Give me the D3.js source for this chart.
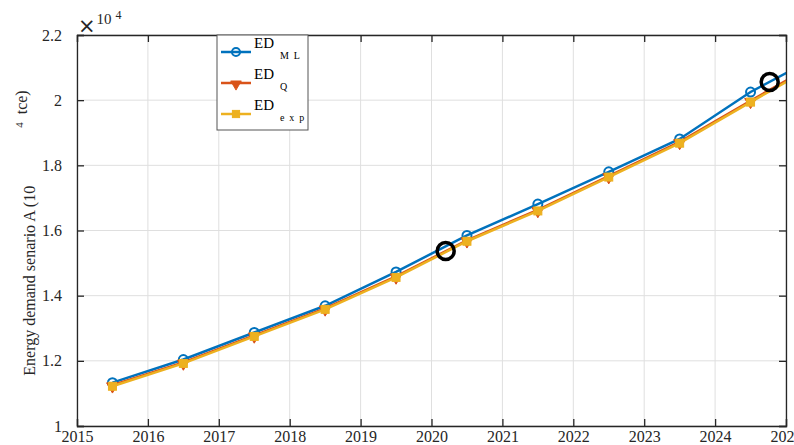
<!DOCTYPE html>
<html>
<head>
<meta charset="utf-8">
<script src="https://cdn.jsdelivr.net/npm/d3@7"></script>
<style>
  html, body { margin: 0; padding: 0; background: #fff; }
  svg { display: block; font-family: "Liberation Serif", "Times New Roman", serif; }
</style>
</head>
<body>
<svg id="chart" width="794" height="445"></svg>
<script>
// Years (mid-year sample points) and the three demand estimates, in units of 10^4 tce
const years = [2015.5, 2016.5, 2017.5, 2018.5, 2019.5, 2020.5, 2021.5, 2022.5, 2023.5, 2024.5, 2025.5];
const edML  = [1.133, 1.204, 1.287, 1.369, 1.473, 1.585, 1.681, 1.780, 1.881, 2.025, 2.141];
const edQ   = [1.125, 1.195, 1.278, 1.361, 1.459, 1.570, 1.663, 1.767, 1.872, 1.998, 2.122];
const edExp = [1.122, 1.192, 1.275, 1.358, 1.456, 1.567, 1.660, 1.764, 1.868, 1.994, 2.117];
// Highlighted points
const markYears = [2020.2, 2024.77];
const markVals  = [1.537, 2.056];

const xTicks = [2015, 2016, 2017, 2018, 2019, 2020, 2021, 2022, 2023, 2024, 2025];
const yTicks = [1, 1.2, 1.4, 1.6, 1.8, 2, 2.2];

const svg = d3.select("#chart");
const L = 77, R = 786, T = 35, B = 426;

const x = d3.scaleLinear().domain([2015, 2025]).range([L, R]);
const y = d3.scaleLinear().domain([1, 2.2]).range([B, T]);

const axisColor = "#262626";
const serif = "Liberation Serif, Times New Roman, serif";

// grid
const grid = svg.append("g");
grid.selectAll("line.gx").data(xTicks).enter().append("line")
  .attr("x1", d => x(d)).attr("x2", d => x(d)).attr("y1", T).attr("y2", B)
  .attr("stroke", "#dfdfdf").attr("stroke-width", 1);
grid.selectAll("line.gy").data(yTicks).enter().append("line")
  .attr("x1", L).attr("x2", R).attr("y1", d => y(d)).attr("y2", d => y(d))
  .attr("stroke", "#dfdfdf").attr("stroke-width", 1);

// clip
svg.append("clipPath").attr("id", "clip").append("rect")
  .attr("x", L).attr("y", T).attr("width", R - L).attr("height", B - T);

const plot = svg.append("g").attr("clip-path", "url(#clip)");
const line = d3.line().x(d => x(d[0])).y(d => y(d[1]));

const series = [
  { vals: edML,  color: "#0072BD", marker: "circle" },
  { vals: edQ,   color: "#D95319", marker: "triangle" },
  { vals: edExp, color: "#EDB120", marker: "square" }
];

const triDown = d3.symbol().type(d3.symbolTriangle).size(60);

function drawMarker(g, mk, cx, cy, color, scale) {
  const s = scale || 1;
  if (mk === "circle") {
    g.append("circle").attr("cx", cx).attr("cy", cy).attr("r", 4.5 * s)
      .attr("fill", "none").attr("stroke", color).attr("stroke-width", 2);
  } else if (mk === "triangle") {
    g.append("path").attr("d", triDown())
      .attr("transform", `translate(${cx},${cy + 1}) rotate(180) scale(${s})`)
      .attr("fill", color).attr("stroke", color).attr("stroke-width", 1);
  } else {
    g.append("rect").attr("x", cx - 4 * s).attr("y", cy - 4 * s)
      .attr("width", 8 * s).attr("height", 8 * s)
      .attr("fill", color).attr("stroke", color).attr("stroke-width", 1);
  }
}

series.forEach(s => {
  const pts = years.map((yr, i) => [yr, s.vals[i]]);
  plot.append("path").datum(pts).attr("d", line)
    .attr("fill", "none").attr("stroke", s.color).attr("stroke-width", 2.5);
  const mg = plot.append("g");
  pts.forEach(p => drawMarker(mg, s.marker, x(p[0]), y(p[1]), s.color));
});

// highlighted points
plot.selectAll("circle.hl").data(markYears).enter().append("circle")
  .attr("cx", d => x(d)).attr("cy", (d, i) => y(markVals[i])).attr("r", 8.5)
  .attr("fill", "none").attr("stroke", "#000").attr("stroke-width", 3.5);

// axes
const tickLen = 7;
const xAxisB = d3.axisBottom(x).tickValues(xTicks).tickSize(-tickLen).tickPadding(tickLen + 4).tickFormat(d3.format("d"));
const xAxisT = d3.axisTop(x).tickValues(xTicks).tickSize(-tickLen).tickFormat("");
const yAxisL = d3.axisLeft(y).tickValues(yTicks).tickSize(-tickLen).tickPadding(tickLen + 8).tickFormat(d => d3.format("")(d));
const yAxisR = d3.axisRight(y).tickValues(yTicks).tickSize(-tickLen).tickFormat("");

function styleAxis(g) {
  g.select(".domain").attr("stroke", axisColor).attr("stroke-width", 1.3);
  g.selectAll(".tick line").attr("stroke", axisColor).attr("stroke-width", 1.3);
  g.selectAll(".tick text").attr("fill", axisColor).attr("font-size", 16)
    .attr("font-family", serif);
}
svg.append("g").attr("transform", `translate(0,${B})`).call(xAxisB).call(styleAxis)
  .selectAll(".tick text").attr("dy", "0.3em");
svg.append("g").attr("transform", `translate(0,${T})`).call(xAxisT).call(styleAxis);
svg.append("g").attr("transform", `translate(${L},0)`).call(yAxisL).call(styleAxis);
svg.append("g").attr("transform", `translate(${R},0)`).call(yAxisR).call(styleAxis);

// exponent
const ex = svg.append("text").attr("x", 78).attr("y", 33).attr("fill", axisColor)
  .attr("font-family", serif).attr("font-size", 15);
ex.append("tspan").attr("font-family", "DejaVu Sans").attr("font-size", 21).text("\u00d7");
ex.append("tspan").attr("dx", 1).attr("dy", -9).attr("font-size", 15).text("10");
ex.append("tspan").attr("dx", 4).attr("dy", -5).attr("font-size", 12).text("4");

// y label
const yl = svg.append("text")
  .attr("transform", `translate(35,${233}) rotate(-90)`)
  .attr("text-anchor", "middle").attr("fill", axisColor)
  .attr("font-family", serif).attr("font-size", 16);
yl.append("tspan").text("Energy demand senario A (10");
yl.append("tspan").attr("dx", 58).attr("dy", -12).attr("font-size", 11).text("4");
yl.append("tspan").attr("dx", 8).attr("dy", 4).text("tce)");

// legend
const lg = svg.append("g");
lg.append("rect").attr("x", 217).attr("y", 35).attr("width", 91).attr("height", 95)
  .attr("fill", "#fff").attr("stroke", "#555").attr("stroke-width", 1);
const legItems = [
  { color: "#0072BD", marker: "circle", sub: "M L", cy: 52 },
  { color: "#D95319", marker: "triangle", sub: "Q", cy: 83 },
  { color: "#EDB120", marker: "square", sub: "e x p", cy: 114 }
];
legItems.forEach(it => {
  lg.append("line").attr("x1", 221).attr("x2", 251).attr("y1", it.cy).attr("y2", it.cy)
    .attr("stroke", it.color).attr("stroke-width", 2.5);
  drawMarker(lg, it.marker, 236, it.cy, it.color, 0.9);
  lg.append("text").attr("x", 254).attr("y", it.cy - 4).attr("font-size", 15)
    .attr("font-family", serif).attr("fill", "#000").text("ED");
  lg.append("text").attr("x", 280).attr("y", it.cy + 7).attr("font-size", 10)
    .attr("font-family", serif).attr("letter-spacing", 1.2).attr("fill", "#000").text(it.sub);
});
</script>
</body>
</html>
